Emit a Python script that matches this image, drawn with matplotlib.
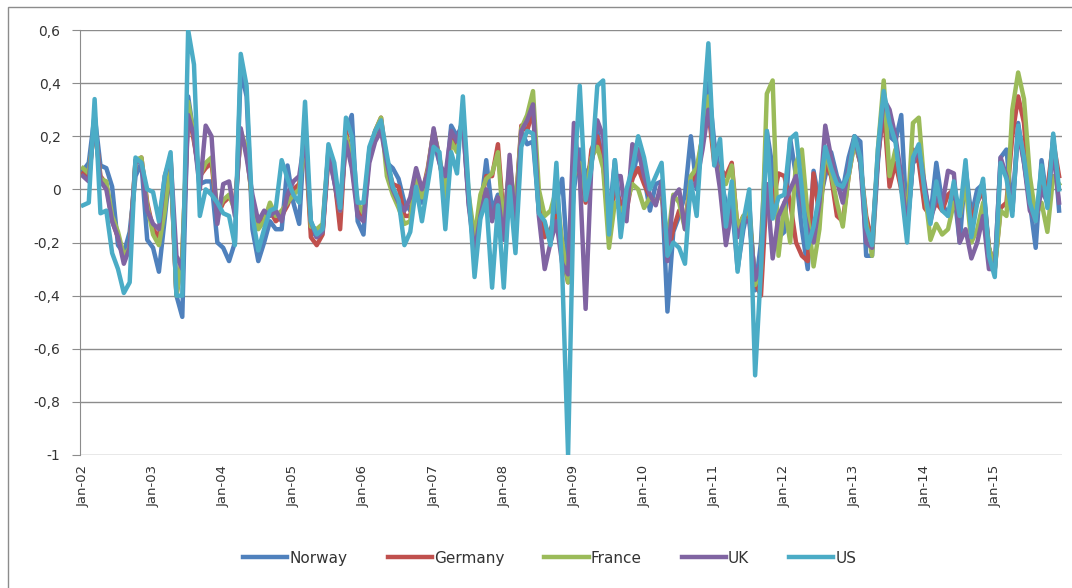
import pandas as pd
import matplotlib
matplotlib.use('Agg')
import matplotlib.pyplot as plt
from matplotlib.patches import Rectangle

# monthly values, Jan-02 .. Dec-15
months = pd.date_range('2002-01-01', periods=168, freq='MS')

norway = [
    0.07, 0.10, 0.28, 0.09, 0.08, 0.01, -0.21, -0.24, -0.16, 0.05, 0.10, -0.19,
    -0.22, -0.31, -0.11, 0.10, -0.40, -0.48, 0.35, 0.20, 0.02, 0.03, 0.03, -0.20,
    -0.22, -0.27, -0.20, 0.45, 0.35, -0.15, -0.27, -0.20, -0.12, -0.15, -0.15, 0.09,
    -0.05, -0.13, 0.25, -0.15, -0.18, -0.16, 0.15, 0.03, -0.10, 0.22, 0.28, -0.12,
    -0.17, 0.15, 0.20, 0.25, 0.10, 0.08, 0.04, -0.05, -0.08, 0.02, -0.05, 0.06,
    0.18, 0.10, 0.00, 0.24, 0.20, 0.25, -0.05, -0.22, -0.08, 0.11, -0.08, -0.02,
    -0.18, 0.05, -0.10, 0.22, 0.17, 0.18, -0.08, -0.13, -0.20, -0.05, 0.04, -0.30,
    0.00, 0.15, 0.05, 0.10, 0.22, 0.10, -0.12, 0.11, -0.10, -0.05, 0.04, 0.15,
    0.05, -0.08, 0.02, 0.03, -0.46, -0.16, -0.10, -0.02, 0.20, 0.00, 0.22, 0.40,
    0.18, 0.05, -0.05, -0.05, -0.30, -0.15, -0.05, -0.38, -0.20, 0.22, 0.08, -0.18,
    -0.16, 0.19, 0.05, -0.15, -0.30, 0.07, -0.05, 0.05, 0.14, 0.05, 0.00, 0.12,
    0.20, 0.18, -0.25, -0.25, 0.10, 0.35, 0.20, 0.18, 0.28, -0.15, 0.10, 0.12,
    0.00, -0.10, 0.10, -0.05, -0.10, 0.00, -0.20, 0.08, -0.10, 0.00, 0.02, -0.22,
    -0.30, 0.12, 0.15, -0.08, 0.25, 0.10, -0.05, -0.22, 0.11, -0.05, 0.20, -0.08,
]

germany = [
    0.06, 0.04, 0.25, 0.05, 0.02, -0.12, -0.18, -0.26, -0.22, 0.10, 0.12, -0.05,
    -0.15, -0.18, -0.05, 0.10, -0.40, -0.25, 0.30, 0.18, 0.05, 0.08, 0.10, -0.10,
    -0.05, -0.03, -0.05, 0.20, 0.15, -0.05, -0.13, -0.10, -0.08, -0.12, -0.10, -0.06,
    0.00, 0.02, 0.20, -0.18, -0.21, -0.17, 0.12, 0.05, -0.15, 0.22, 0.10, -0.08,
    -0.10, 0.13, 0.22, 0.27, 0.10, 0.02, 0.01, -0.10, -0.10, 0.05, -0.02, 0.08,
    0.22, 0.12, -0.05, 0.20, 0.15, 0.28, -0.04, -0.20, -0.06, 0.05, 0.05, 0.17,
    -0.12, 0.08, -0.08, 0.24, 0.22, 0.30, -0.05, -0.18, -0.15, -0.10, -0.25, -0.35,
    0.05, 0.08, -0.05, 0.15, 0.20, 0.10, -0.15, 0.00, -0.05, -0.08, 0.04, 0.08,
    0.02, -0.03, -0.05, 0.00, -0.25, -0.15, -0.08, -0.12, 0.03, 0.05, 0.20, 0.30,
    0.10, 0.08, 0.05, 0.10, -0.15, -0.10, -0.10, -0.35, -0.40, 0.00, -0.05, 0.06,
    0.05, -0.05, -0.20, -0.25, -0.27, 0.06, -0.10, 0.10, 0.05, -0.10, -0.12, 0.05,
    0.18, 0.10, -0.10, -0.20, 0.12, 0.30, 0.01, 0.10, 0.00, -0.10, 0.15, 0.10,
    -0.07, -0.10, -0.05, -0.08, -0.02, 0.00, -0.10, 0.05, -0.12, -0.05, 0.00, -0.22,
    -0.30, -0.07, -0.05, 0.20, 0.35, 0.25, -0.05, -0.10, 0.02, 0.00, 0.18, 0.05,
]

france = [
    0.08, 0.06, 0.24, 0.04, 0.03, -0.10, -0.16, -0.25, -0.22, 0.11, 0.12, -0.06,
    -0.17, -0.21, -0.08, 0.12, -0.40, -0.25, 0.33, 0.20, 0.05, 0.10, 0.12, -0.08,
    -0.04, -0.02, -0.08, 0.22, 0.15, -0.05, -0.15, -0.12, -0.05, -0.10, -0.08, -0.05,
    -0.02, 0.00, 0.20, -0.14, -0.15, -0.13, 0.14, 0.05, -0.08, 0.20, 0.12, -0.05,
    -0.09, 0.14, 0.22, 0.27, 0.05, -0.02, -0.07, -0.13, -0.12, 0.06, -0.03, 0.07,
    0.22, 0.12, -0.03, 0.18, 0.14, 0.28, -0.02, -0.18, -0.02, 0.04, 0.06, 0.14,
    -0.15, 0.10, -0.08, 0.23, 0.28, 0.37, 0.00, -0.10, -0.08, 0.00, -0.20, -0.35,
    0.05, 0.10, -0.02, 0.12, 0.16, 0.08, -0.22, -0.05, -0.08, -0.05, 0.02, 0.00,
    -0.07, -0.03, -0.05, 0.00, -0.20, -0.02, -0.05, -0.15, 0.05, 0.08, 0.20, 0.35,
    0.12, 0.05, 0.02, 0.09, -0.15, -0.10, -0.08, -0.36, -0.30, 0.36, 0.41, -0.25,
    -0.05, -0.20, 0.10, 0.15, -0.10, -0.29, -0.15, 0.15, 0.06, -0.05, -0.14, 0.05,
    0.18, 0.10, -0.12, -0.25, 0.15, 0.41, 0.05, 0.15, 0.05, -0.12, 0.25, 0.27,
    0.00, -0.19, -0.13, -0.17, -0.15, -0.05, -0.10, 0.02, -0.20, -0.15, -0.05, -0.22,
    -0.30, -0.08, -0.10, 0.30, 0.44, 0.34, 0.05, -0.10, -0.05, -0.16, 0.05, 0.02,
]

uk = [
    0.05, 0.03, 0.26, 0.03, 0.00, -0.12, -0.18, -0.28, -0.22, 0.11, 0.10, -0.08,
    -0.13, -0.15, 0.05, 0.12, -0.25, -0.30, 0.28, 0.20, 0.00, 0.24, 0.20, -0.13,
    0.02, 0.03, -0.10, 0.23, 0.12, -0.02, -0.12, -0.08, -0.10, -0.08, -0.12, -0.02,
    0.03, 0.05, 0.20, -0.12, -0.18, -0.16, 0.13, 0.03, -0.08, 0.18, 0.08, -0.10,
    -0.12, 0.10, 0.18, 0.22, 0.10, 0.00, -0.05, -0.08, -0.03, 0.08, 0.00, 0.06,
    0.23, 0.10, 0.05, 0.22, 0.18, 0.26, -0.06, -0.24, -0.10, 0.00, -0.12, -0.03,
    -0.19, 0.13, -0.15, 0.22, 0.26, 0.32, -0.10, -0.30, -0.20, -0.12, -0.28, -0.32,
    0.25, 0.05, -0.45, 0.10, 0.26, 0.20, -0.10, 0.05, 0.05, -0.12, 0.17, 0.15,
    0.05, -0.02, -0.06, 0.03, -0.27, -0.03, 0.00, -0.15, 0.00, 0.03, 0.15, 0.30,
    0.15, 0.00, -0.21, -0.08, -0.18, -0.12, -0.12, -0.34, -0.28, 0.02, -0.26, -0.10,
    -0.05, 0.00, 0.05, -0.05, -0.15, -0.20, -0.05, 0.24, 0.12, 0.03, -0.05, 0.08,
    0.20, 0.10, -0.20, -0.22, 0.12, 0.34, 0.30, 0.20, 0.05, -0.15, 0.10, 0.15,
    0.02, -0.12, -0.03, -0.06, 0.07, 0.06, -0.20, -0.15, -0.26, -0.20, -0.10, -0.30,
    -0.30, 0.12, 0.05, -0.08, 0.22, 0.10, -0.08, -0.12, 0.00, -0.05, 0.15, -0.05,
]

us = [
    -0.06, -0.05, 0.34, -0.09, -0.08, -0.24, -0.30, -0.39, -0.35, 0.12, 0.10, 0.00,
    -0.01, -0.12, 0.05, 0.14, -0.40, -0.40, 0.60, 0.47, -0.10, 0.00, -0.02, -0.05,
    -0.09, -0.10, -0.21, 0.51, 0.39, -0.10, -0.23, -0.15, -0.08, -0.07, 0.11, 0.04,
    -0.02, -0.05, 0.33, -0.12, -0.17, -0.15, 0.17, 0.10, -0.07, 0.27, 0.20, -0.05,
    -0.05, 0.16, 0.22, 0.26, 0.13, 0.01, -0.04, -0.21, -0.16, 0.01, -0.12, 0.02,
    0.16, 0.14, -0.15, 0.14, 0.06, 0.35, -0.01, -0.33, -0.11, -0.04, -0.37, -0.06,
    -0.37, 0.01, -0.24, 0.16, 0.22, 0.21, -0.09, -0.12, -0.21, 0.10, -0.31, -1.00,
    0.02, 0.39, -0.04, 0.08, 0.39, 0.41, -0.17, 0.11, -0.18, 0.00, 0.08, 0.20,
    0.12, 0.00, 0.05, 0.10, -0.25, -0.20, -0.22, -0.28, 0.03, -0.10, 0.25, 0.55,
    0.09, 0.19, -0.14, 0.03, -0.31, -0.12, 0.00, -0.70, -0.30, 0.22, -0.11, -0.03,
    -0.02, 0.19, 0.21, 0.00, -0.22, -0.14, -0.02, 0.16, 0.08, 0.02, 0.01, 0.06,
    0.20, 0.12, -0.14, -0.21, 0.15, 0.37, 0.25, 0.18, 0.00, -0.20, 0.12, 0.17,
    -0.01, -0.13, 0.03, -0.08, -0.10, 0.03, -0.10, 0.11, -0.18, -0.05, 0.04, -0.25,
    -0.33, 0.10, 0.04, -0.10, 0.24, 0.12, -0.05, -0.12, 0.09, -0.07, 0.21, 0.00,
]

names = ['Norway', 'Germany', 'France', 'UK', 'US']
series = [norway, germany, france, uk, us]
colors = ['#4F81BD', '#C0504D', '#9BBB59', '#8064A2', '#4BACC6']

y_ticks = [0.6, 0.4, 0.2, 0, -0.2, -0.4, -0.6, -0.8, -1]

plt.rcParams['font.family'] = ['DejaVu Sans']
fig = plt.figure(figsize=(10.72, 5.88), dpi=100)
ax = fig.add_axes([80 / 1072, 1 - 455 / 588, 982 / 1072, 425 / 588])

x = list(range(len(months)))
for name, vals, c in zip(names, series, colors):
    ax.plot(x, vals, color=c, lw=3.2, label=name, solid_joinstyle='round')

ax.set_ylim(-1, 0.6)
ax.set_xlim(-0.5, len(months) - 0.5)
ax.set_yticks(y_ticks)
ax.set_yticklabels([('%g' % v).replace('.', ',') for v in y_ticks])
ax.yaxis.grid(True, color='#8c8c8c', lw=1)
ax.set_axisbelow(True)

xt = [i for i in x if months[i].month == 1]
ax.set_xticks(xt)
ax.set_xticklabels([months[i].strftime('%b-%y') for i in xt], rotation=90)
ax.tick_params(axis='x', length=0, pad=7, labelsize=9.5, colors='#333333')
ax.tick_params(axis='y', length=6, color='#8c8c8c', labelsize=10, colors='#333333', pad=8)

for s in ['top', 'right', 'bottom']:
    ax.spines[s].set_visible(False)
ax.spines['left'].set_color('#8c8c8c')

fig.patches.append(Rectangle((8 / 1072, -0.1), 1.2, 1.1 - 7 / 588, transform=fig.transFigure,
                             fill=False, edgecolor='#8c8c8c', lw=1))

leg = fig.legend(loc='center', bbox_to_anchor=(0.513, 0.051), ncol=5, frameon=False,
                 handlelength=2.9, handletextpad=0.15, columnspacing=2.6, fontsize=11,
                 labelcolor='#333333')
for h in leg.legend_handles:
    h.set_linewidth(3.2)

fig.savefig('out.png', dpi=100)
